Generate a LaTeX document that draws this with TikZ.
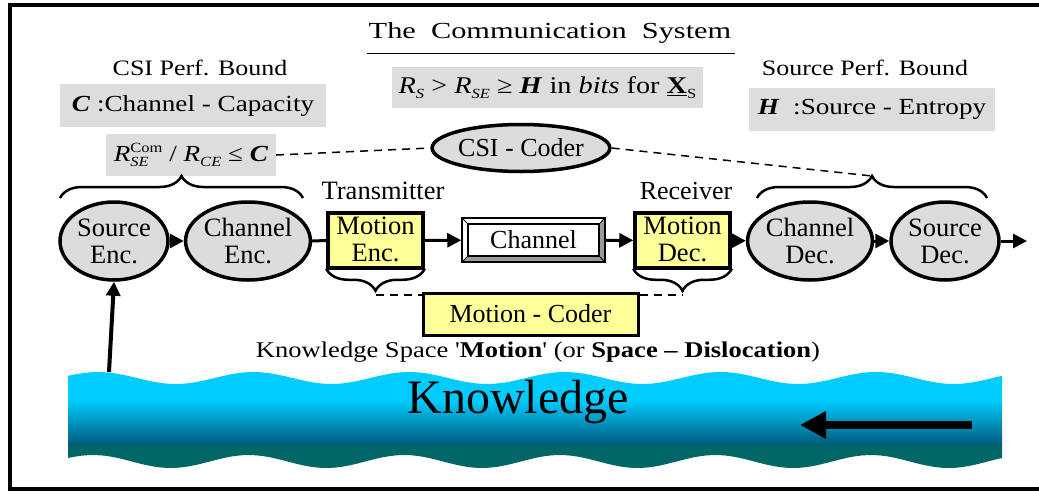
\documentclass[tikz,border=0pt]{standalone}
\usepackage{fontspec}
\setmainfont{Liberation Serif}
\newfontfamily\wide[FakeStretch=1.18]{Liberation Serif}
\newfontfamily\wider[FakeStretch=1.32]{Liberation Serif}
\usetikzlibrary{shapes.geometric,arrows.meta,decorations.pathreplacing,calc}
\definecolor{ellgray}{HTML}{DCDCDC}
\definecolor{boxgray}{HTML}{DDDDDD}
\definecolor{ylw}{HTML}{FFFF99}
\definecolor{wcyan}{HTML}{00CCFF}
\definecolor{wdark}{HTML}{00587A}
\definecolor{wteal}{HTML}{006666}
\definecolor{bevel}{HTML}{9A9A9A}
\newcommand{\sbs}[1]{\raisebox{-5pt}{\fontsize{14}{14}\selectfont #1}}
\newcommand{\supsub}[2]{%
  \setbox0\hbox{\fontsize{14}{14}\selectfont #1}%
  \setbox2\hbox{\fontsize{14}{14}\selectfont #2}%
  \ifdim\wd0>\wd2 \dimen0=\wd0 \else \dimen0=\wd2 \fi
  \rlap{\raise 9pt\copy0}\rlap{\lower 5pt\copy2}\hskip\dimen0\relax}
\tikzset{
  lbl/.style={inner sep=0pt, font=\wide\fontsize{22}{24}\selectfont},
  gbox/.style={fill=boxgray, inner sep=0pt, font=\wide\fontsize{23}{25}\selectfont},
  ell/.style={ellipse, draw, line width=3.5pt, fill=ellgray, inner sep=0pt,
    minimum width=108pt, minimum height=78pt, align=center,
    font=\fontsize{26.5}{27}\selectfont},
  ybox/.style={draw, line width=3.5pt, fill=ylw, inner sep=0pt, align=center,
    font=\fontsize{26.5}{27}\selectfont},
  arr/.style={-{Triangle[length=14pt,width=14pt]}, line width=3pt},
  brc/.style={decorate, decoration={brace, amplitude=22pt}, line width=2.5pt},
  dsh/.style={line width=1.5pt, dash pattern=on 8pt off 6pt},
}
\begin{document}
\begin{tikzpicture}[x=1pt,y=-1pt]
\useasboundingbox (0,0) rectangle (1039,493);
% frame
\draw[line width=4pt] (1039,5) -- (10,5) -- (10,489) -- (1039,489);

% title
\node[lbl, font=\wider\fontsize{23}{25}\selectfont] (title) at (550,33) {The\ \ Communication\ \ System};
\draw[line width=1pt] (367,53) -- (735,53);

\node[gbox, minimum width=311pt, minimum height=41pt, font=\wide\fontsize{24}{26}\selectfont] (rs) at (547.5,87.5)
  {\textit{R}\sbs{\textit{S}} > \textit{R}\sbs{\textit{SE}} ≥ \textbf{\textit{H}} in \textit{bits} for \underline{\textbf{X}}\sbs{S}};

\node[lbl] (csipb) at (200,68) {CSI Perf. Bound};
\node[gbox, minimum width=266pt, minimum height=43pt] (cbox) at (193,105.5)
  {\textbf{\textit{C}} :Channel - Capacity};
\node[gbox, minimum width=170pt, minimum height=42pt] (rbox) at (191,155)
  {\textit{R}\supsub{Com}{\textit{SE}} / \textit{R}\sbs{\textit{CE}} ≤ \textbf{\textit{C}}};

\node[lbl] (srcpb) at (865,68) {Source Perf. Bound};
\node[gbox, minimum width=246pt, minimum height=43pt] (hbox) at (872,109.5)
  {\textbf{\textit{H}}\ \ :Source - Entropy};

\node[ell, minimum width=176pt, minimum height=47pt, font=\fontsize{26}{27}\selectfont] (csi) at (521,148) {CSI - Coder};

% chain
\node[ell] (senc) at (114,241) {Source\\Enc.};
\node[ell] (cenc) at (248,241) {Channel\\Enc.};
\node[ybox, minimum width=95pt, minimum height=55pt, text depth=2pt] (menc) at (375.5,240.5) {Motion\\Enc.};
\node[draw, line width=1.5pt, fill=white, inner sep=0pt, minimum width=143pt, minimum height=44pt,
  font=\fontsize{26}{27}\selectfont,
  path picture={
    \fill[bevel] (path picture bounding box.north east) -- (path picture bounding box.south east)
      -- (path picture bounding box.south west) -- ([shift={(6,-6)}]path picture bounding box.south west)
      -- ([shift={(-6,-6)}]path picture bounding box.south east) -- ([shift={(-6,6)}]path picture bounding box.north east) -- cycle;
    \draw[line width=1.2pt] ([shift={(6,6)}]path picture bounding box.north west) rectangle ([shift={(-6,-6)}]path picture bounding box.south east);
    \draw[line width=0.8pt] (path picture bounding box.north west) -- ([shift={(6,6)}]path picture bounding box.north west)
      (path picture bounding box.north east) -- ([shift={(-6,6)}]path picture bounding box.north east)
      (path picture bounding box.south west) -- ([shift={(6,-6)}]path picture bounding box.south west)
      (path picture bounding box.south east) -- ([shift={(-6,-6)}]path picture bounding box.south east);
  }] (chan) at (533.5,240) {Channel};
\node[ybox, minimum width=95pt, minimum height=55pt, text depth=2pt] (mdec) at (682.5,240.5) {Motion\\Dec.};
\node[ell] (cdec) at (810,241) {Channel\\Dec.};
\node[ell] (sdec) at (945,241) {Source\\Dec.};
\coordinate (out) at (1027,241);

\node[lbl, font=\fontsize{26.5}{27}\selectfont] (tx) at (383,191) {Transmitter};
\node[lbl, font=\fontsize{26}{27}\selectfont] (rx) at (686,191) {Receiver};

\draw[arr] (senc) -- (cenc);
\draw[line width=3pt] (cenc.east) -- (menc.west);
\draw[arr] (menc) -- (chan);
\draw[arr] (chan) -- (mdec);
\draw[arr] (mdec) -- (cdec);
\draw[arr] (cdec) -- (sdec);
\draw[arr] (sdec) -- (out);

% braces
\coordinate (bl1) at (60,198);  \coordinate (bl2) at (303,198);
\coordinate (br1) at (757,198); \coordinate (br2) at (987,198);
\draw[brc] (bl1) -- (bl2);
\draw[brc] (br1) -- (br2);
\coordinate (rtip) at (872,176);
\draw[brc] ([yshift=1pt]menc.south east) -- ([yshift=1pt]menc.south west);
\draw[brc] ([yshift=1pt]mdec.south east) -- ([yshift=1pt]mdec.south west);
\coordinate (mtip1) at (376,295);
\coordinate (mtip2) at (683,295);

\node[ybox, line width=3pt, minimum width=215pt, minimum height=42pt, font=\fontsize{26}{27}\selectfont] (mcod) at (530.5,314) {Motion - Coder};

\draw[dsh] (rbox.east) -- (csi.west);
\draw[dsh] (csi.east) -- (rtip);
\draw[dsh] (mtip1) -- (mtip1 -| mcod.west);
\draw[dsh] (mcod.east |- mtip2) -- (mtip2);

\node[lbl, font=\wide\fontsize{22.5}{24}\selectfont] (ks) at (538,352)
  {Knowledge Space '\textbf{Motion}' (or \textbf{Space – Dislocation})};

% water
\begin{scope}
\path[clip] plot[domain=68:1002, samples=140] (\x, {378 - 6*cos((\x-98)*2.31362)})
   -- plot[domain=1002:68, samples=140] (\x, {461.5 - 6.5*cos((\x-93)*2.31362)}) -- cycle;
\fill[wcyan] (60,360) rectangle (1010,400);
\shade[top color=wcyan, bottom color=wdark] (60,400) rectangle (1010,445.5);
\fill[wteal] (60,445) rectangle (1010,480);
\end{scope}
\node[inner sep=0pt, font=\fontsize{48}{50}\selectfont] (kn) at (518,402) {Knowledge};
\coordinate (wa1) at (972,425);
\coordinate (wa2) at (800,425);
\draw[line width=8pt, -{Triangle[length=26pt,width=26pt]}] (wa1) -- (wa2);
\coordinate (kw) at (109,372);
\draw[arr, line width=4pt] (kw) -- (senc.south);
\end{tikzpicture}
\end{document}
